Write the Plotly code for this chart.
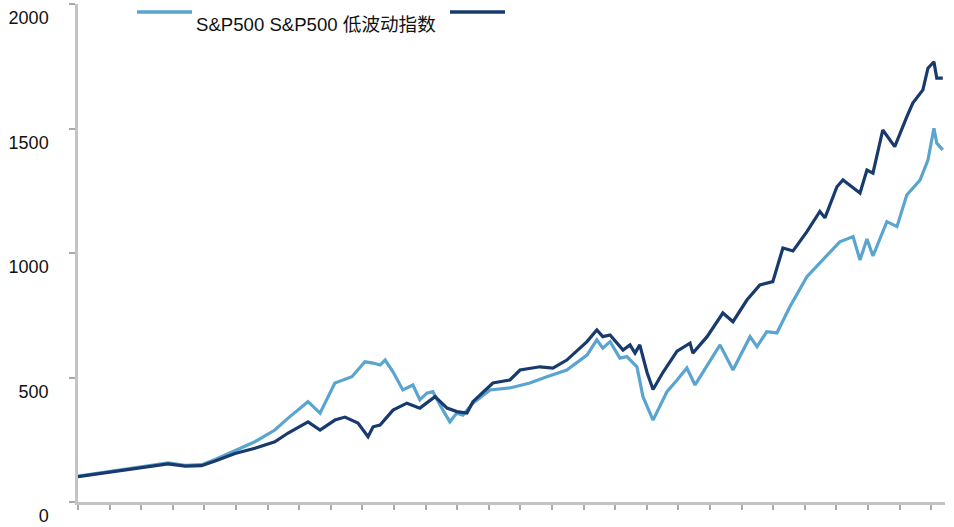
import plotly.graph_objects as go

# S&P500 (light blue)
sp_x = [1991.00, 1991.95, 1993.02, 1993.85, 1994.39, 1994.91, 1995.34, 1995.97, 1996.60, 1997.23,
        1997.65, 1998.28, 1998.66, 1999.13, 1999.67, 2000.08, 2000.34, 2000.56, 2000.72, 2000.97,
        2001.28, 2001.60, 2001.82, 2002.04, 2002.23, 2002.55, 2002.77, 2002.99, 2003.18, 2003.50,
        2004.04, 2004.67, 2005.30, 2005.84, 2006.47, 2007.11, 2007.42, 2007.61, 2007.84, 2008.15,
        2008.37, 2008.69, 2008.88, 2009.20, 2009.51, 2009.64, 2009.96, 2010.27, 2010.53, 2011.32,
        2011.73, 2012.27, 2012.49, 2012.80, 2013.12, 2013.53, 2014.07, 2014.58, 2015.11, 2015.53,
        2015.75, 2015.97, 2016.16, 2016.60, 2016.92, 2017.23, 2017.65, 2017.90, 2018.09, 2018.18,
        2018.37]
sp_y = [104, 122, 143, 157, 147, 150, 171, 206, 242, 289,
        337, 403, 357, 478, 503, 563, 558, 550, 570, 523,
        450, 470, 410, 437, 443, 369, 322, 357, 349, 397,
        450, 458, 478, 503, 530, 590, 651, 618, 644, 578,
        584, 543, 423, 329, 410, 443, 490, 538, 470, 631,
        530, 664, 624, 684, 679, 784, 905, 972, 1045, 1066,
        972, 1056, 988, 1126, 1106, 1233, 1293, 1373, 1501, 1441,
        1414]

# S&P500 低波动指数 (dark navy)
lv_x = [1991.00, 1991.95, 1993.02, 1993.85, 1994.39, 1994.91, 1995.34, 1995.97, 1996.60, 1997.23,
        1997.65, 1998.28, 1998.66, 1999.13, 1999.45, 1999.86, 2000.18, 2000.34, 2000.56, 2000.97,
        2001.41, 2001.82, 2002.30, 2002.68, 2002.99, 2003.31, 2003.50, 2004.13, 2004.67, 2004.99,
        2005.62, 2006.03, 2006.47, 2007.11, 2007.42, 2007.61, 2007.84, 2008.25, 2008.47, 2008.63,
        2008.78, 2009.01, 2009.20, 2009.51, 2009.96, 2010.37, 2010.46, 2010.91, 2011.41, 2011.73,
        2012.17, 2012.58, 2012.99, 2013.31, 2013.63, 2014.07, 2014.48, 2014.64, 2015.02, 2015.21,
        2015.49, 2015.75, 2015.97, 2016.16, 2016.47, 2016.85, 2017.23, 2017.42, 2017.74, 2017.90,
        2018.09, 2018.18, 2018.37]
lv_y = [102, 120, 140, 153, 144, 146, 165, 195, 216, 242,
        277, 322, 289, 329, 341, 317, 262, 302, 309, 369,
        397, 377, 423, 377, 363, 357, 403, 478, 490, 530,
        543, 538, 570, 644, 691, 664, 671, 610, 631, 598,
        631, 520, 452, 520, 606, 638, 598, 664, 759, 724,
        811, 872, 885, 1020, 1008, 1086, 1167, 1141, 1266, 1293,
        1266, 1241, 1333, 1321, 1494, 1427, 1547, 1602, 1655, 1742,
        1768, 1702, 1702]

year_ticks = list(range(1991, 2019))
y_ticks = [0, 500, 1000, 1500, 2000]
legend_text = "S&P500 S&P500 低波动指数"

LIGHT = "#5aa5d0"
DARK = "#183a6c"
AXIS = "#c4c4c4"
FONT = "Liberation Sans, Arial, Noto Sans CJK SC, sans-serif"

fig = go.Figure()
fig.add_trace(go.Scatter(x=sp_x, y=sp_y, mode="lines", name="S&P500",
                         line=dict(color=LIGHT, width=3.2), showlegend=False))
fig.add_trace(go.Scatter(x=lv_x, y=lv_y, mode="lines", name="S&P500 低波动指数",
                         line=dict(color=DARK, width=3.2), showlegend=False))

L, R, T, B = 78, 9, 4, 25
W, H = 954, 527
pw, ph = W - L - R, H - T - B

def px(x):
    return (x - L) / pw

def py(y):
    return (H - B - y) / ph

fig.add_shape(type="line", xref="paper", yref="paper",
              x0=px(137), x1=px(192), y0=py(12), y1=py(12),
              line=dict(color=LIGHT, width=3.5))
fig.add_shape(type="line", xref="paper", yref="paper",
              x0=px(450), x1=px(505), y0=py(12), y1=py(12),
              line=dict(color=DARK, width=3.5))
fig.add_annotation(xref="paper", yref="paper", x=px(194), y=py(25),
                   xanchor="left", yanchor="middle", showarrow=False,
                   text=legend_text, font=dict(size=18.6, color="#111111", family=FONT))

fig.update_layout(
    width=W, height=H,
    margin=dict(l=L, r=R, t=T, b=B, pad=0, autoexpand=False),
    paper_bgcolor="white", plot_bgcolor="white",
    font=dict(family=FONT, size=18, color="#111111"),
    xaxis=dict(range=[1991, 2018.44], tickvals=year_ticks, showticklabels=False,
               ticks="outside", ticklen=5, tickwidth=1.5, tickcolor="#aaaaaa", automargin=False,
               showgrid=False, zeroline=False, showline=True, linecolor=AXIS, linewidth=2.5),
    yaxis=dict(range=[0, 2000], tickvals=y_ticks, ticks="outside", ticklen=6, tickwidth=1.5,
               tickcolor="#aaaaaa", showgrid=False, zeroline=False, showline=True,
               linecolor=AXIS, linewidth=2.5, ticklabelshift=14, ticklabelstandoff=17,
               ticklabeloverflow="allow", automargin=False,
               tickfont=dict(size=18, color="#111111")),
)

fig.write_html("out.html", config={"displayModeBar": False},
               post_script="document.body.style.margin='0';")
